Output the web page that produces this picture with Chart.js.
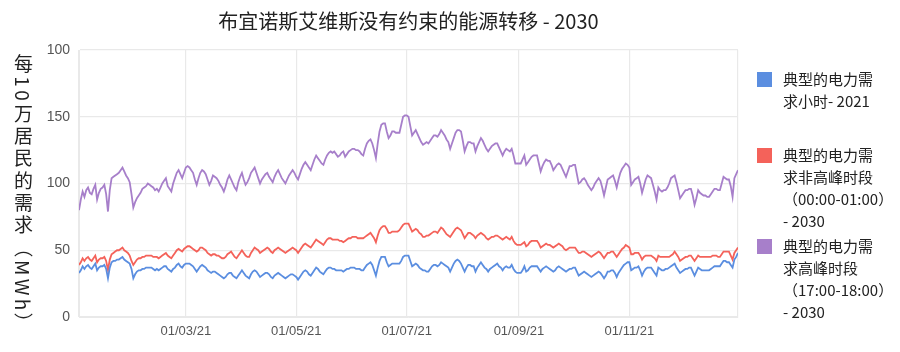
<!DOCTYPE html>
<html>
<head>
<meta charset="utf-8">
<script src="https://cdn.jsdelivr.net/npm/chart.js@4.4.1/dist/chart.umd.min.js"></script>
<style>
  html, body { margin: 0; padding: 0; background: #fff; }
  #wrap { position: relative; width: 900px; height: 352px; }
  #ytitle {
    position: absolute; left: 11px; top: 54px;
    writing-mode: vertical-rl; text-orientation: mixed;
    font-family: "Noto Sans CJK SC", sans-serif; font-size: 19px;
    letter-spacing: 3.3px; color: #222; line-height: 24px;
  }
  .leg-item { position: absolute; left: 757px; }
  .leg-box { position: absolute; left: 0; width: 15px; height: 15px; }
  .leg-text {
    position: absolute; left: 26px; white-space: pre; width: 130px;
    font-family: "Noto Sans CJK SC", sans-serif; font-size: 15px;
    line-height: 22px; color: #222;
  }
</style>
</head>
<body>
<div id="wrap">
  <canvas id="chart" width="900" height="352"></canvas>
  <div id="ytitle"></div>
  <div id="legend"></div>
</div>
<script>
// TEXTS
const chartTitle = "布宜诺斯艾维斯没有约束的能源转移 - 2030";
const yAxisTitle = "每10万居民的需求（MWh）";
const seriesNames = [
  "典型的电力需\n求小时- 2021",
  "典型的电力需\n求非高峰时段\n（00:00-01:00）\n- 2030",
  "典型的电力需\n求高峰时段\n（17:00-18:00）\n- 2030",
];

// AXES (x = day of 2021, 0 = 01/01/21)
const xTickDays = [0, 59, 120, 181, 243, 304, 364];
const xTickLabels = ["", "01/03/21", "01/05/21", "01/07/21", "01/09/21", "01/11/21", ""];
const yTickValues = [0, 50, 100, 150, 200];
const yTickLabels = ["0", "50", "100", "150", "100"];

// DAILY VALUES (MWh per 100k inhabitants)
const hourly2021 = [
  33, 35, 38, 36, 38, 39, 37, 36, 38, 40,
  35, 37, 38, 38, 39, 36, 29, 37, 41, 42,
  42, 43, 43, 44, 45, 43, 42, 41, 40, 36,
  29, 32, 34, 35, 35, 36, 36, 37, 37, 37,
  37, 36, 35, 36, 35, 36, 37, 38, 38, 36,
  35, 34, 36, 37, 39, 40, 38, 37, 39, 40,
  40, 40, 39, 38, 36, 34, 36, 38, 39, 38,
  37, 35, 34, 33, 34, 34, 33, 32, 31, 30,
  29, 30, 32, 33, 33, 31, 30, 29, 31, 33,
  35, 33, 31, 30, 29, 32, 34, 35, 34, 32,
  30, 31, 32, 33, 33, 32, 30, 29, 31, 32,
  33, 32, 31, 30, 29, 30, 31, 32, 32, 31,
  30, 28, 30, 32, 34, 35, 34, 32, 31, 33,
  35, 37, 36, 34, 33, 32, 34, 36, 37, 37,
  36, 36, 35, 35, 35, 35, 34, 35, 36, 36,
  37, 37, 37, 36, 36, 36, 35, 35, 37, 39,
  40, 41, 39, 35, 31, 37, 42, 45, 45, 45,
  41, 38, 39, 40, 40, 40, 40, 40, 42, 45,
  46, 46, 46, 42, 38, 39, 40, 39, 37, 36,
  35, 35, 34, 34, 36, 38, 39, 39, 38, 39,
  41, 40, 39, 38, 37, 34, 37, 40, 42, 43,
  42, 40, 37, 34, 37, 39, 39, 38, 38, 34,
  37, 39, 41, 39, 37, 36, 34, 36, 37, 38,
  39, 40, 38, 37, 35, 37, 38, 37, 37, 39,
  36, 34, 33, 33, 33, 35, 38, 34, 35, 37,
  38, 38, 38, 38, 36, 34, 36, 37, 38, 37,
  36, 35, 34, 35, 37, 38, 37, 36, 35, 34,
  35, 36, 36, 37, 37, 34, 31, 32, 33, 34,
  33, 32, 31, 30, 31, 32, 33, 34, 33, 31,
  29, 31, 34, 34, 35, 35, 33, 30, 33, 35,
  37, 39, 40, 41, 41, 35, 36, 37, 37, 38,
  35, 31, 34, 36, 37, 37, 37, 35, 33, 31,
  37, 36, 35, 35, 36, 36, 37, 38, 39, 40,
  37, 35, 33, 34, 35, 36, 36, 37, 37, 34,
  31, 34, 37, 36, 35, 35, 35, 35, 35, 36,
  37, 38, 38, 38, 38, 40, 42, 42, 41, 41,
  39, 37, 43, 45, 48,
];

const offPeak2030 = [
  39, 41, 44, 42, 44, 45, 43, 42, 44, 46,
  41, 43, 44, 44, 45, 42, 35, 43, 47, 48,
  49, 50, 50, 51, 52, 50, 49, 48, 46, 42,
  39, 41, 43, 44, 44, 45, 45, 46, 46, 46,
  46, 45, 45, 45, 44, 45, 46, 47, 48, 46,
  45, 44, 46, 48, 50, 51, 50, 49, 51, 52,
  53, 53, 52, 51, 50, 49, 50, 52, 52, 51,
  50, 48, 47, 46, 47, 47, 46, 46, 45, 44,
  44, 45, 47, 48, 49, 47, 45, 44, 46, 48,
  50, 48, 46, 45, 45, 48, 50, 52, 51, 50,
  48, 49, 50, 51, 52, 51, 49, 48, 50, 51,
  52, 51, 50, 49, 48, 49, 50, 51, 52, 51,
  50, 48, 50, 52, 54, 55, 54, 53, 52, 54,
  56, 58, 57, 56, 55, 54, 56, 58, 59, 59,
  58, 58, 58, 58, 57, 57, 56, 57, 58, 59,
  59, 60, 60, 60, 59, 59, 59, 59, 60, 61,
  62, 63, 61, 59, 56, 61, 65, 67, 68, 68,
  66, 63, 63, 64, 64, 64, 64, 65, 67, 69,
  70, 70, 70, 67, 64, 65, 66, 65, 63, 62,
  60, 60, 61, 61, 62, 63, 64, 64, 63, 65,
  67, 66, 64, 62, 61, 60, 62, 64, 66, 67,
  66, 65, 62, 59, 61, 63, 63, 62, 61, 59,
  61, 62, 63, 62, 61, 59, 58, 59, 60, 60,
  61, 61, 60, 59, 58, 59, 60, 59, 58, 60,
  57, 55, 54, 54, 54, 55, 56, 53, 54, 56,
  57, 57, 57, 57, 55, 52, 53, 54, 55, 54,
  54, 53, 52, 53, 54, 55, 54, 53, 51, 50,
  51, 52, 52, 52, 52, 50, 48, 48, 49, 49,
  48, 47, 46, 45, 46, 47, 48, 49, 48, 46,
  44, 46, 48, 48, 49, 49, 47, 45, 47, 49,
  51, 52, 54, 53, 52, 47, 47, 48, 48, 48,
  46, 43, 45, 46, 46, 46, 46, 45, 44, 42,
  46, 45, 45, 45, 45, 45, 45, 46, 47, 49,
  47, 45, 42, 43, 44, 45, 45, 46, 46, 44,
  42, 44, 46, 45, 45, 45, 45, 45, 45, 45,
  46, 46, 46, 45, 45, 47, 49, 49, 49, 49,
  46, 43, 48, 50, 52,
];

const peak2030 = [
  80, 88, 94, 90, 95, 97, 93, 92, 96, 99,
  88, 93, 96, 97, 99, 92, 79, 95, 104, 105,
  106, 107, 108, 110, 112, 109, 106, 104, 101, 92,
  82, 86, 89, 91, 93, 96, 97, 98, 100, 99,
  98, 97, 95, 96, 94, 97, 100, 102, 104, 98,
  96, 94, 100, 104, 108, 110, 107, 104, 108, 112,
  113, 112, 110, 108, 103, 99, 104, 108, 110, 109,
  107, 103, 99, 102, 106, 105, 104, 102, 99, 97,
  94, 98, 103, 106, 103, 100, 97, 95, 101, 105,
  108, 103, 99, 101, 104, 108, 110, 112, 108, 104,
  100, 103, 105, 107, 108, 105, 103, 101, 105, 108,
  110, 107, 104, 102, 100, 103, 106, 108, 110, 108,
  105, 103, 107, 111, 114, 116, 114, 112, 110, 114,
  118, 121, 119, 117, 115, 114, 118, 121, 123, 124,
  123, 124, 122, 120, 121, 123, 124, 120, 122, 124,
  125, 126, 126, 125, 125, 124, 122, 121, 126, 130,
  132, 133, 130, 125, 119, 130, 139, 144, 145, 145,
  139, 134, 136, 139, 139, 138, 138, 138, 144, 150,
  151, 151, 150, 143, 136, 138, 140, 137, 134, 131,
  129, 130, 131, 130, 132, 134, 136, 136, 135, 137,
  140, 138, 136, 133, 131, 126, 130, 134, 138, 140,
  140, 139, 132, 124, 128, 131, 131, 130, 130, 124,
  128, 131, 134, 132, 129, 126, 124, 126, 128, 129,
  130, 130, 127, 124, 121, 124, 126, 125, 124, 126,
  121, 115, 115, 115, 115, 118, 121, 114, 116, 118,
  120, 121, 121, 121, 115, 109, 113, 116, 118, 117,
  117, 114, 110, 112, 114, 115, 114, 111, 108, 105,
  109, 113, 113, 114, 114, 107, 100, 101, 103, 104,
  102, 99, 97, 95, 97, 100, 102, 104, 102, 97,
  91, 97, 103, 104, 105, 106, 102, 97, 103, 108,
  111, 113, 115, 114, 112, 99, 101, 103, 104, 105,
  100, 93, 98, 103, 106, 105, 104, 99, 94, 88,
  97, 95, 94, 95, 95, 97, 100, 104, 105, 106,
  101, 95, 89, 91, 93, 95, 95, 96, 96, 91,
  84, 89, 95, 93, 92, 91, 91, 90, 90, 92,
  94, 96, 96, 95, 95, 100, 105, 104, 103, 103,
  98, 90, 104, 107, 110,
];

const seriesColors = ["#5b8ee0", "#f4625a", "#a77fca"];

function toPoints(values) {
  return values.map((v, i) => ({ x: i, y: v }));
}

const gridColor = "#e9e9e9";
const tickFont = { family: "'Liberation Sans', Arial, sans-serif", size: 14 };

const chart = new Chart(document.getElementById("chart"), {
  type: "line",
  data: {
    datasets: [hourly2021, offPeak2030, peak2030].map((vals, i) => ({
      label: seriesNames[i],
      data: toPoints(vals),
      borderColor: seriesColors[i],
      backgroundColor: seriesColors[i],
      borderWidth: 1.8,
      pointRadius: 0,
      tension: 0,
      fill: false,
    })),
  },
  options: {
    responsive: false,
    animation: false,
    layout: { padding: { left: 0, right: 162, top: 0, bottom: 0 } },
    scales: {
      x: {
        type: "linear",
        min: 0,
        max: 364,
        afterBuildTicks: (scale) => {
          scale.ticks = xTickDays.map((d) => ({ value: d }));
        },
        afterFit: (scale) => {
          scale.height = 35;
        },
        ticks: {
          autoSkip: false,
          maxRotation: 0,
          padding: 7,
          color: "#555",
          font: { family: "'Liberation Sans', Arial, sans-serif", size: 13 },
          callback: (value) => xTickLabels[xTickDays.indexOf(value)],
        },
        grid: { color: gridColor, drawTicks: false, lineWidth: 1.2 },
        border: { color: gridColor },
      },
      y: {
        min: 0,
        max: 200,
        afterBuildTicks: (scale) => {
          scale.ticks = yTickValues.map((v) => ({ value: v }));
        },
        afterFit: (scale) => {
          scale.width = 79;
        },
        ticks: {
          padding: 9,
          color: "#555",
          font: tickFont,
          callback: (value) => yTickLabels[yTickValues.indexOf(value)],
        },
        grid: { color: gridColor, drawTicks: false, lineWidth: 1.2 },
        border: { color: gridColor },
      },
    },
    plugins: {
      legend: { display: false },
      tooltip: { enabled: false },
      title: {
        display: true,
        text: chartTitle,
        fullSize: false,
        color: "#222",
        font: { family: "'Noto Sans CJK SC', sans-serif", size: 20, weight: "normal" },
        padding: { top: 9, bottom: 17 },
      },
    },
  },
});

// Y AXIS TITLE (vertical, CJK upright)
document.getElementById("ytitle").textContent = yAxisTitle;

// HTML LEGEND
const legendTops = [72, 148, 239];
const legendEl = document.getElementById("legend");
chart.data.datasets.forEach((ds, i) => {
  const item = document.createElement("div");
  item.className = "leg-item";
  item.style.top = legendTops[i] + "px";
  const box = document.createElement("div");
  box.className = "leg-box";
  box.style.background = ds.borderColor;
  const txt = document.createElement("div");
  txt.className = "leg-text";
  txt.style.top = "-4px";
  txt.textContent = ds.label;
  item.appendChild(box);
  item.appendChild(txt);
  legendEl.appendChild(item);
});
</script>
</body>
</html>
